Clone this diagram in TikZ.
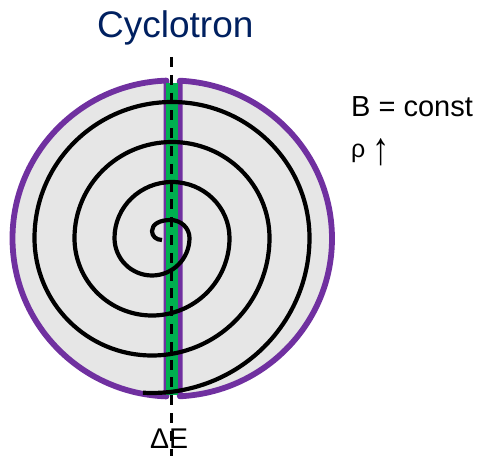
\documentclass[tikz,border=0pt]{standalone}
\usepackage{fontspec}
\setmainfont{Liberation Sans}
\definecolor{navy}{RGB}{0,32,96}
\definecolor{dpurple}{RGB}{112,48,160}
\definecolor{dgreen}{RGB}{0,176,80}
\definecolor{dgray}{RGB}{230,230,230}
\tikzset{
  dee/.style={draw=dpurple,fill=dgray,line width=5.8pt,line join=round,line cap=round},
  orbit/.style={draw=black,line width=4.2pt,line cap=butt,line join=round},
  axisline/.style={draw=black,line width=3pt,dash pattern=on 10pt off 7.8pt},
  lab/.style={inner sep=0pt,anchor=base west}
}
\begin{document}
\begin{tikzpicture}[x=1pt,y=1pt]
\useasboundingbox (0,0) rectangle (477,456);
% dees
\draw[dee] (172,217.5) ++(92:159.5 and 158) arc[start angle=92,end angle=268,x radius=159.5,y radius=158] -- cycle;
\draw[dee] (172,217.5) ++(-87.2:160 and 158) arc[start angle=-87.2,end angle=87.2,x radius=160,y radius=158] -- cycle;
% gap
\fill[dgreen] (166.4,61) rectangle (177.8,373);
% spiral
\draw[orbit] (162,216)
  .. controls (156,216) and (152,220) .. (152,225)
  .. controls (152,232) and (160,236) .. (170.5,236)
  arc[start angle=90,end angle=0,x radius=19,y radius=18]
  arc[start angle=0,end angle=-180,radius=37.5]
  arc[start angle=180,end angle=0,x radius=57.5,y radius=56]
  arc[start angle=0,end angle=-180,radius=77.5]
  arc[start angle=180,end angle=0,x radius=97.5,y radius=96]
  arc[start angle=0,end angle=-180,radius=117.5]
  arc[start angle=180,end angle=0,x radius=137.5,y radius=136]
  arc[start angle=0,end angle=-93.3,x radius=157.5,y radius=155];
% axis
\coordinate (axtop) at (171,399);
\coordinate (axbot) at (171,0);
\draw[axisline] (axtop) -- (axbot);
% labels
\node[lab,text=navy,font=\fontsize{37}{37}\selectfont] (title) at (97,418) {Cyclotron};
\node[lab,font=\fontsize{29}{29}\selectfont] (bconst) at (351,339.5) {B = const};
\node[lab,font=\fontsize{25}{25}\selectfont] (rho) at (351,298) {ρ};
\node[lab,xscale=.75,font=\fontsize{46}{46}\selectfont] (arrow) at (372,291.5) {↑};
\node[lab,font=\fontsize{28.5}{28.5}\selectfont] (de) at (150,8) {ΔE};
\end{tikzpicture}
\end{document}
